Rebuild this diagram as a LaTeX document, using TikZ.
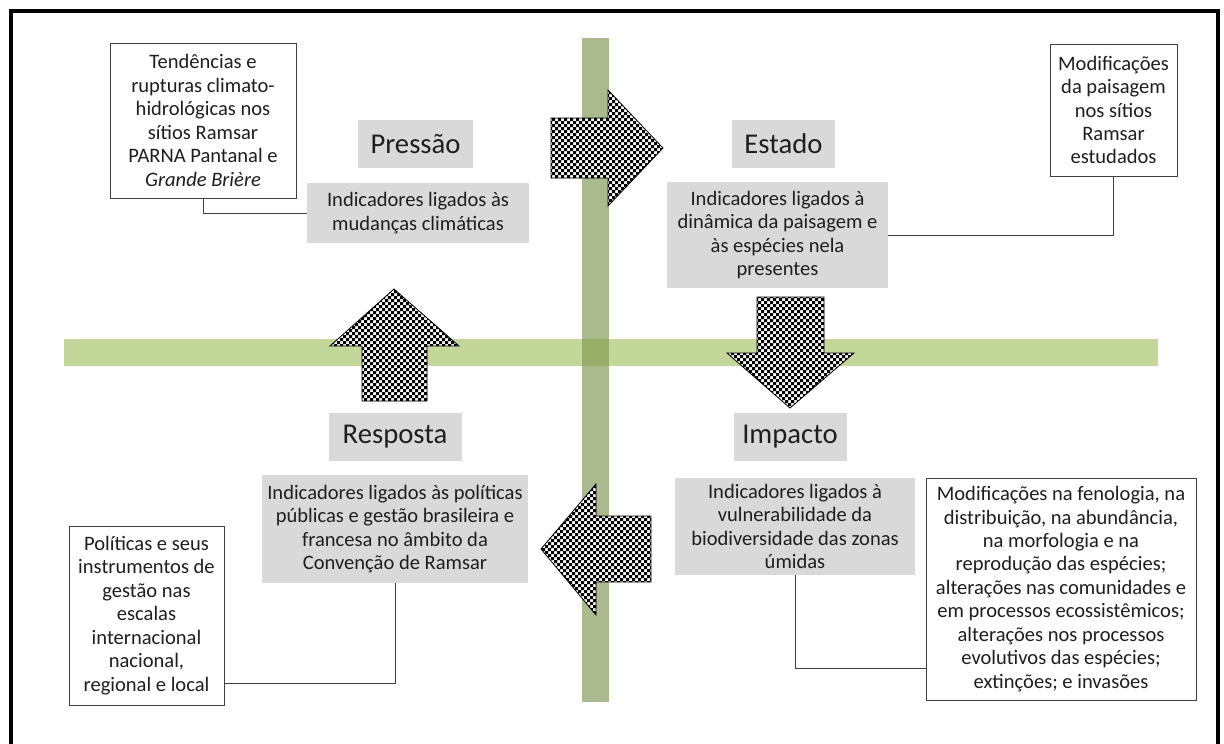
\documentclass[tikz,border=0pt]{standalone}
\usepackage{fontspec}
\setmainfont{Carlito}
\definecolor{hbar}{RGB}{196,215,155}
\definecolor{vbar}{RGB}{170,186,142}
\definecolor{crossgreen}{RGB}{152,174,104}
\definecolor{boxgray}{RGB}{217,217,217}
\definecolor{linegray}{RGB}{64,64,64}
\definecolor{txt}{RGB}{30,30,30}
\newcommand{\smalltxt}{\fontsize{15.4}{17.6}\selectfont}
\newcommand{\labeltxt}{\fontsize{21.5}{24}\selectfont}
% #1 = closed outline, #2,#3 = top-left corner of the checker grid
\newcommand{\checkarrow}[3]{%
  \fill[white] #1;
  \begin{scope}
    \clip #1;
    \fill[black,even odd rule]
      \foreach \k in {0,...,25}{({#2+6*\k},#3) rectangle ++(3,150)}
      \foreach \k in {0,...,25}{(#2,{#3+6*\k}) rectangle ++(150,3)};
  \end{scope}
  \draw[black,line width=0.6pt,line join=miter] #1;
}
\begin{document}
\begin{tikzpicture}[x=0.75pt,y=-0.75pt,
  bw/.style={minimum width=#1*0.75pt},
  bh/.style={minimum height=#1*0.75pt},
  graybox/.style={fill=boxgray, inner sep=0pt, align=center, text=txt, font=\smalltxt},
  labelbox/.style={fill=boxgray, inner sep=0pt, text=txt, font=\labeltxt},
  whitebox/.style={draw=linegray, line width=0.75pt, fill=white, inner sep=0pt, align=center, text=txt, font=\smalltxt},
  conn/.style={draw=linegray, line width=0.75pt}
]
\useasboundingbox (0,0) rectangle (1224,743);
\fill[white] (0,0) rectangle (1224,743);
% frame
\draw[line width=3pt] (10.5,748) -- (10.5,11) -- (1218,11) -- (1218,748);
% green axes
\fill[hbar] (64,339) rectangle (1158,366);
\fill[vbar] (582,38) rectangle (609,702);
\fill[crossgreen] (582,339) rectangle (609,366);
% block arrows
\checkarrow{(551,118) -- (608,118) -- (608,90) -- (663,148) -- (608,206) -- (608,178) -- (551,178) -- cycle}{549}{88}
\checkarrow{(757,297) -- (824,297) -- (824,353) -- (854,353) -- (790,408) -- (727,353) -- (757,353) -- cycle}{725}{295}
\checkarrow{(651,516) -- (596,516) -- (596,484) -- (541,549) -- (596,615) -- (596,582) -- (651,582) -- cycle}{539}{482}
\checkarrow{(362,401) -- (362,346) -- (330,346) -- (394,289) -- (459,346) -- (427,346) -- (427,401) -- cycle}{328}{287}
% coordinates for connector elbows
\coordinate (polc) at (0,683);
\coordinate (impc) at (0,668);
% boxes
\node[whitebox,bw=186,bh=155] (tend) at (203,120.5) {Tendências e\\rupturas climato-\\hidrológicas nos\\sítios Ramsar\\PARNA Pantanal e\\\textit{Grande Brière}};
\node[labelbox,bw=115,bh=48] (presL) at (415.5,144) {Pressão};
\node[graybox,bw=222,bh=60] (presI) at (418,213) {Indicadores ligados às\\mudanças climáticas};
\node[labelbox,bw=103,bh=48] (estL) at (783.5,144) {Estado};
\node[graybox,bw=221,bh=106] (estI) at (777.5,235) {Indicadores ligados à\\dinâmica da paisagem e\\às espécies nela\\presentes};
\node[whitebox,bw=127,bh=132] (modP) at (1113.5,110) {Modificações\\da paisagem\\nos sítios\\Ramsar\\estudados};
\node[labelbox,bw=133,bh=48] (respL) at (395,437) {Resposta};
\node[graybox,bw=266,bh=108] (respI) at (395,529) {Indicadores ligados às políticas\\públicas e gestão brasileira e\\francesa no âmbito da\\Convenção de Ramsar};
\node[whitebox,bw=155,bh=179] (pol) at (146.5,615.5) {Políticas e seus\\instrumentos de\\gestão nas\\escalas\\internacional\\nacional,\\regional e local};
\node[labelbox,bw=113,bh=48] (impL) at (790,437) {Impacto};
\node[graybox,bw=240,bh=97] (impI) at (795,526.5) {Indicadores ligados à\\vulnerabilidade da\\biodiversidade das zonas\\úmidas};
\node[whitebox,bw=270,bh=222] (big) at (1061,589) {Modificações na fenologia, na\\distribuição, na abundância,\\na morfologia e na\\reprodução das espécies;\\alterações nas comunidades e\\em processos ecossistêmicos;\\alterações nos processos\\evolutivos das espécies;\\extinções; e invasões};
% connectors
\draw[conn] (tend.south) |- (presI.west);
\draw[conn] (estI.east) -| (modP.south);
\draw[conn] (respI.south) |- (pol.east |- polc);
\draw[conn] (impI.south) |- (big.west |- impc);
\end{tikzpicture}
\end{document}
